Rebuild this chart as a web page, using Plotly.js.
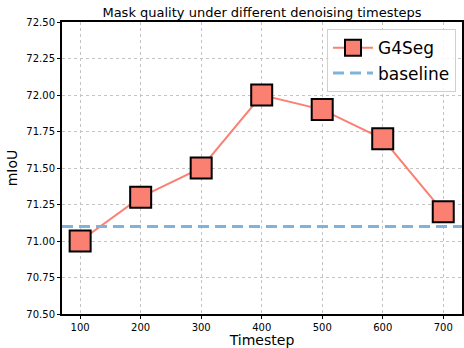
<!DOCTYPE html>
<html><head><meta charset="utf-8">
<script src="https://cdn.plot.ly/plotly-3.0.1.min.js"></script>
<style>html,body{margin:0;padding:0;background:#fff}#c{width:464px;height:348px}</style>
</head><body><div id="c"></div>
<script>
const timesteps = [100, 200, 300, 400, 500, 600, 700];
const g4segMiou = [71.0, 71.3, 71.5, 72.0, 71.9, 71.7, 71.2];
const baselineMiou = 71.1;
const xTicks = [100, 200, 300, 400, 500, 600, 700];
const yTicks = [70.5, 70.75, 71.0, 71.25, 71.5, 71.75, 72.0, 72.25, 72.5];

const font = "DejaVu Sans, sans-serif";
const traces = [
  {x: timesteps, y: g4segMiou, name: "G4Seg", mode: "lines+markers", type: "scatter",
   line: {color: "#fa8072", width: 2},
   marker: {symbol: "square", size: 21, color: "#fa8072", line: {color: "#000", width: 2}}},
  {x: [70, 731], y: [baselineMiou, baselineMiou], name: "baseline", mode: "lines", type: "scatter",
   line: {color: "#80b3dc", width: 3, dash: "11px,6px"}}
];
const layout = {
  width: 464, height: 348,
  margin: {l: 62, r: 2, t: 22, b: 34},
  paper_bgcolor: "#fff", plot_bgcolor: "#fff",
  font: {family: font, color: "#000", size: 10},
  title: {text: "Mask quality under different denoising timesteps", font: {size: 13, family: font},
          xref: "paper", x: 0.5, xanchor: "center", yref: "container", y: 0.965, yanchor: "middle"},
  xaxis: {range: [70, 731], tickvals: xTicks, ticktext: xTicks.map(String),
          showgrid: true, gridcolor: "#c4c4c4", griddash: "dot", gridwidth: 1,
          zeroline: false, showline: true, linecolor: "#000", linewidth: 2, mirror: true,
          ticks: "outside", ticklen: 3, tickcolor: "#000", automargin: false,
          title: {text: "Timestep", font: {size: 14}, standoff: 1}},
  yaxis: {range: [70.5, 72.5], tickvals: yTicks, ticktext: yTicks.map(v => v.toFixed(2)),
          showgrid: true, gridcolor: "#c4c4c4", griddash: "dot", gridwidth: 1,
          zeroline: false, showline: true, linecolor: "#000", linewidth: 2, mirror: true,
          ticks: "outside", ticklen: 3, tickcolor: "#000", automargin: false,
          title: {text: "mIoU", font: {size: 14}, standoff: 5}},
  showlegend: true,
  legend: {x: 0.985, y: 0.975, xanchor: "right", yanchor: "top", bgcolor: "rgba(255,255,255,0.85)",
           bordercolor: "#d0d0d0", borderwidth: 1, font: {size: 17}, itemwidth: 40, tracegroupgap: 0}
};
Plotly.newPlot("c", traces, layout, {displayModeBar: false, staticPlot: true});
</script></body></html>
